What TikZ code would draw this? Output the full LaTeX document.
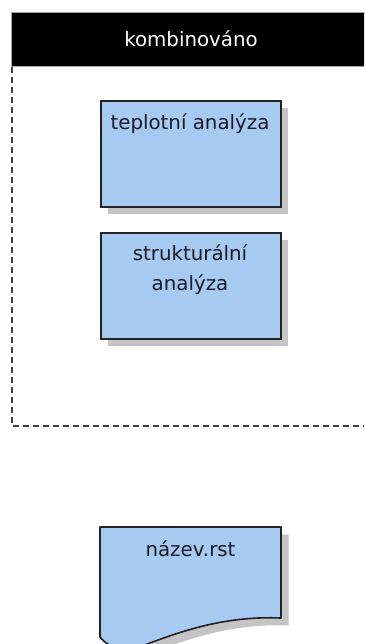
\documentclass[tikz,border=0pt]{standalone}
\usepackage{fontspec}
\setmainfont{DejaVu Sans}
\usetikzlibrary{shadows}

\definecolor{skyfill}{RGB}{166,202,240}
\definecolor{shadowgrey}{RGB}{196,196,196}
\definecolor{edgegrey}{RGB}{34,34,34}
\definecolor{dashgrey}{RGB}{64,64,64}
\definecolor{inkblue}{RGB}{26,26,40}

\tikzset{
  procbox/.style={draw=edgegrey, line width=1.6pt, fill=skyfill,
    minimum width=180pt, minimum height=106pt, inner sep=0pt, anchor=north west,
    drop shadow={shadow xshift=7.5pt, shadow yshift=-7.5pt, fill=shadowgrey, opacity=1}},
  lbl/.style={text=inkblue, inner sep=0pt, anchor=base, align=center,
    font=\fontsize{19.8pt}{29.3pt}\selectfont},
  poolhead/.style={fill=black, draw=gray!70, line width=0.8pt, inner sep=0pt,
    anchor=north west, minimum width=372pt, minimum height=54pt},
  headtxt/.style={text=white, inner sep=0pt, anchor=base,
    font=\fontsize{19.8pt}{24pt}\selectfont},
  poolline/.style={draw=dashgrey, line width=1.6pt, dash pattern=on 6pt off 4pt},
  docbody/.style={draw=edgegrey, line width=1.6pt, fill=skyfill, line join=round},
}

\begin{document}
\begin{tikzpicture}[x=1pt, y=-1pt]
  \useasboundingbox (0,0) rectangle (364,644);
  \clip (0,0) rectangle (364,644);
  \fill[white] (0,0) rectangle (364,644);

  % swimlane header and its dashed frame
  \node[poolhead] (pool) at (11,12) {};
  \node[headtxt] (pooltitle) at (191,47) {kombinováno};
  \coordinate (poolcorner) at (12,426);
  \coordinate (poolend) at (370,426);
  \draw[poolline] (pool.south west -| poolcorner) -- (poolcorner) -- (poolend);

  % process boxes
  \node[procbox] (teplo) at (100,100) {};
  \node[lbl] (teplotxt) at (190,129.5) {teplotní analýza};

  \node[procbox] (strukt) at (100,232) {};
  % base of a two-line label is the baseline of its last line
  \node[lbl] (strukttxt) at (190,290) {strukturální\\analýza};

  % output document with wavy lower edge
  \fill[shadowgrey, shift={(7.5,7.5)}]
    (100,527) -- (281,527) -- (281,618)
    .. controls (230,616) and (190,628) .. (150,643)
    .. controls (128,652) and (110,650) .. (100,637) -- cycle;
  \draw[docbody]
    (100,527) -- (281,527) -- (281,618)
    .. controls (230,616) and (190,628) .. (150,643)
    .. controls (128,652) and (110,650) .. (100,637) -- cycle;
  \coordinate (doctop) at (190.5,527);
  \node[lbl] (doctxt) at (doctop |- 0,556.7) {název.rst};
\end{tikzpicture}
\end{document}
